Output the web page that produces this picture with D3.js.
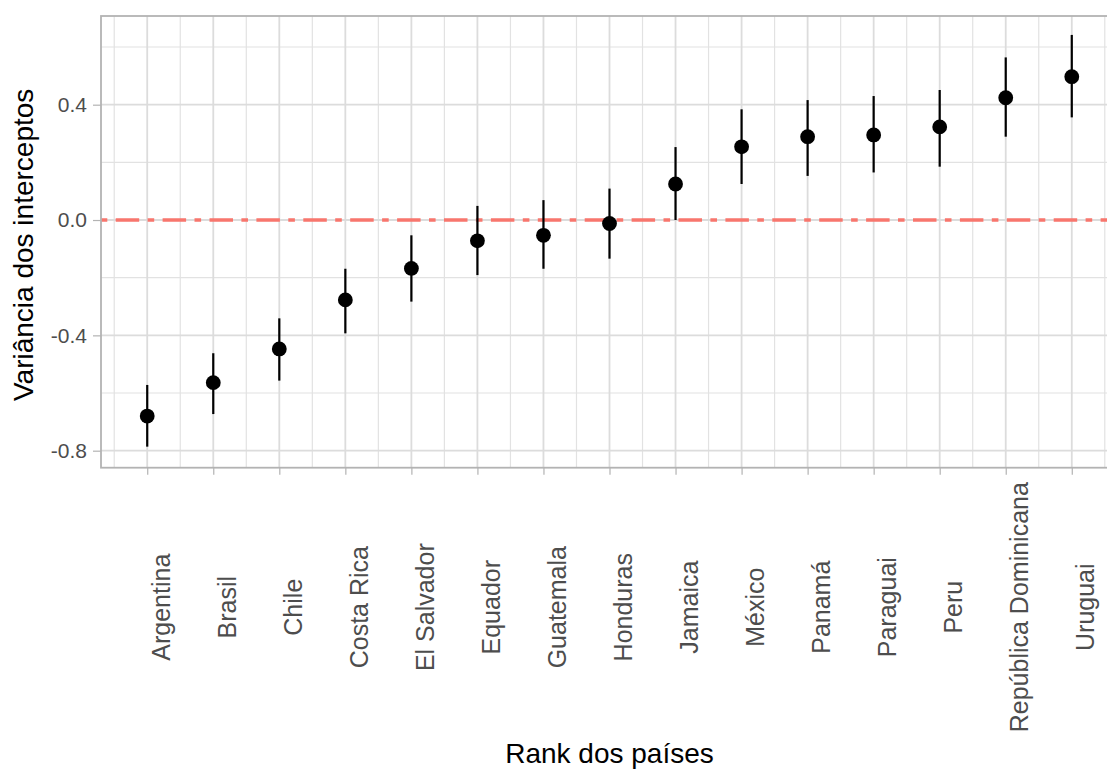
<!DOCTYPE html>
<html>
<head>
<meta charset="utf-8">
<script src="https://cdn.jsdelivr.net/npm/d3@7"></script>
<style>
  body { margin: 0; background: #fff; }
  svg { display: block; font-family: "Liberation Sans", Arial, sans-serif; }
</style>
</head>
<body>
<script>
const width = 1107;
const height = 769;

// países ordenados pelo rank
const paises = ["Argentina", "Brasil", "Chile", "Costa Rica", "El Salvador", "Equador",
  "Guatemala", "Honduras", "Jamaica", "México", "Panamá", "Paraguai", "Peru",
  "República Dominicana", "Uruguai"];
const estimativa = [-0.680, -0.564, -0.447, -0.277, -0.168, -0.072, -0.053, -0.012,
  0.125, 0.254, 0.289, 0.295, 0.323, 0.424, 0.497];
const inferior = [-0.786, -0.673, -0.557, -0.393, -0.283, -0.191, -0.169, -0.134,
  0.000, 0.125, 0.153, 0.165, 0.185, 0.289, 0.356];
const superior = [-0.572, -0.462, -0.341, -0.169, -0.053, 0.049, 0.069, 0.109,
  0.253, 0.384, 0.416, 0.430, 0.451, 0.564, 0.642];
const yTicks = [-0.8, -0.4, 0.0, 0.4];
const yMinor = [-0.6, -0.2, 0.2, 0.6];

const data = paises.map((p, i) => ({
  pais: p, rank: i + 1, est: estimativa[i], lo: inferior[i], hi: superior[i]
}));

const panel = { left: 101, top: 16, right: 1118, bottom: 467.7 };

const x = d3.scaleLinear().domain([0.3, 15.7]).range([panel.left, panel.right]);
const y = d3.scaleLinear().domain([-0.859, 0.7076]).range([panel.bottom, panel.top]);

let svg = d3.select("body")
  .append("svg")
  .attr("width", width)
  .attr("height", height);

const g = svg.append("g");

// minor grid
const xMinor = d3.range(0.5, 16, 1);
g.selectAll(".xminor").data(xMinor).join("line")
  .attr("x1", d => x(d)).attr("x2", d => x(d))
  .attr("y1", panel.top).attr("y2", panel.bottom)
  .attr("stroke", "#e2e2e2").attr("stroke-width", 1.2);
g.selectAll(".yminor").data(yMinor).join("line")
  .attr("x1", panel.left).attr("x2", panel.right)
  .attr("y1", d => y(d)).attr("y2", d => y(d))
  .attr("stroke", "#e2e2e2").attr("stroke-width", 1.2);

// major grid
g.selectAll(".xmajor").data(data).join("line")
  .attr("x1", d => x(d.rank)).attr("x2", d => x(d.rank))
  .attr("y1", panel.top).attr("y2", panel.bottom)
  .attr("stroke", "#dcdcdc").attr("stroke-width", 1.8);
g.selectAll(".ymajor").data(yTicks).join("line")
  .attr("x1", panel.left).attr("x2", panel.right)
  .attr("y1", d => y(d)).attr("y2", d => y(d))
  .attr("stroke", "#dcdcdc").attr("stroke-width", 1.8);

// linha de referência em zero
g.append("line")
  .attr("x1", panel.left).attr("x2", panel.right)
  .attr("y1", y(0)).attr("y2", y(0))
  .attr("stroke", "#F8766D").attr("stroke-width", 3.4)
  .attr("stroke-dasharray", "23.5 8.4 6.6 8.4")
  .attr("stroke-dashoffset", 32.2);

// intervalos
g.selectAll(".range").data(data).join("line")
  .attr("x1", d => x(d.rank)).attr("x2", d => x(d.rank))
  .attr("y1", d => y(d.lo)).attr("y2", d => y(d.hi))
  .attr("stroke", "#000").attr("stroke-width", 2.2);

g.selectAll("circle").data(data).join("circle")
  .attr("cx", d => x(d.rank)).attr("cy", d => y(d.est))
  .attr("r", 7.4).attr("fill", "#000");

// borda do painel
g.append("rect")
  .attr("x", panel.left).attr("y", panel.top)
  .attr("width", panel.right - panel.left).attr("height", panel.bottom - panel.top)
  .attr("fill", "none").attr("stroke", "#b3b3b3").attr("stroke-width", 1.8);

// eixo y
const yAxis = svg.append("g")
  .attr("transform", `translate(${panel.left},0)`)
  .call(d3.axisLeft(y).tickValues(yTicks).tickFormat(d3.format(".1f")).tickSize(8).tickPadding(6));
yAxis.select(".domain").remove();
yAxis.selectAll(".tick line").attr("stroke", "#b3b3b3").attr("stroke-width", 1.2);
yAxis.selectAll(".tick text")
  .attr("fill", "#4d4d4d").attr("font-size", 21).attr("font-family", null)
  .text(d => d3.format(".1f")(d).replace("−", "-"));

// eixo x
const xAxis = svg.append("g")
  .attr("transform", `translate(0,${panel.bottom})`)
  .call(d3.axisBottom(x).tickValues(data.map(d => d.rank)).tickFormat(d => paises[d - 1]).tickSize(7));
xAxis.select(".domain").remove();
xAxis.selectAll(".tick line").attr("stroke", "#b3b3b3").attr("stroke-width", 1.2);
xAxis.selectAll(".tick text")
  .attr("fill", "#4d4d4d").attr("font-size", 25).attr("font-family", null)
  .attr("text-anchor", "middle")
  .attr("y", null).attr("dy", null)
  .attr("transform", "translate(22,139.5) rotate(-90)");

// títulos
svg.append("text")
  .attr("x", (panel.left + panel.right) / 2).attr("y", 763)
  .attr("text-anchor", "middle").attr("font-size", 28).attr("fill", "#000")
  .text("Rank dos países");

svg.append("text")
  .attr("transform", `translate(33,${(panel.top + panel.bottom) / 2 + 3}) rotate(-90)`)
  .attr("text-anchor", "middle").attr("font-size", 28).attr("fill", "#000")
  .text("Variância dos interceptos");
</script>
</body>
</html>
